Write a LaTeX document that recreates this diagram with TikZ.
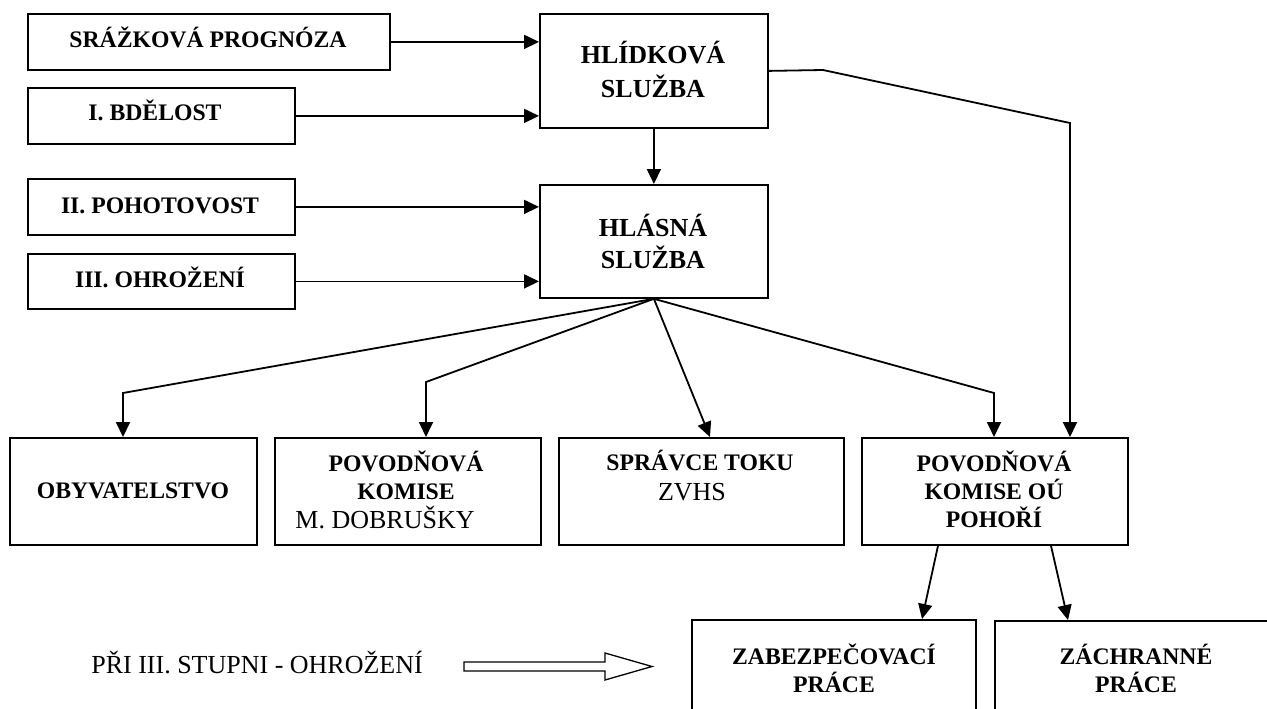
\documentclass[tikz,border=0pt]{standalone}
\usepackage{fontspec}
\setmainfont{Liberation Serif}
\usetikzlibrary{arrows.meta}
\begin{document}
\begin{tikzpicture}[x=1pt,y=-1pt,
  box/.style={draw, line width=1.8pt, inner sep=0pt, anchor=north west},
  bt/.style={font=\fontsize{23.7}{28}\selectfont\bfseries, inner sep=0pt, anchor=base},
  bigt/.style={font=\fontsize{26}{31}\selectfont\bfseries, inner sep=0pt, anchor=base},
  rt/.style={font=\fontsize{26}{30}\selectfont, inner sep=0pt, anchor=base},
  arr/.style={line width=1.8pt, -{Triangle[length=15pt,width=14pt]}},
  ln/.style={line width=1.8pt}]
\useasboundingbox (0,0) rectangle (1267,709);
\clip (0,0) rectangle (1267,709);
% boxes
\node[box, minimum width=362pt, minimum height=56pt] (sp) at (27,13) {};
\node[box, minimum width=267pt, minimum height=56pt] (ib) at (27,87) {};
\node[box, minimum width=228pt, minimum height=114pt] (hl) at (539,13) {};
\node[box, minimum width=267pt, minimum height=56pt] (ii) at (27,178) {};
\node[box, minimum width=267pt, minimum height=55pt] (iii) at (27,253) {};
\node[box, minimum width=228pt, minimum height=113pt] (hlas) at (539,184) {};
\node[box, minimum width=247pt, minimum height=107pt] (obyv) at (9,437) {};
\node[box, minimum width=266pt, minimum height=107pt] (povkom) at (274,437) {};
\node[box, minimum width=285pt, minimum height=107pt] (sprav) at (558,437) {};
\node[box, minimum width=266pt, minimum height=107pt] (povou) at (861,437) {};
\node[box, minimum width=284pt, minimum height=120pt] (zab) at (691,619) {};
\node[box, minimum width=290pt, minimum height=120pt] (zach) at (994,620) {};
% texts
\node[bt] (tsp) at (208,48) {SRÁŽKOVÁ PROGNÓZA};
\node[bt] (tib) at (155,121) {I. BDĚLOST};
\node[bigt] (thla) at (653,64) {HLÍDKOVÁ};
\node[bigt] (thlb) at (653,97) {SLUŽBA};
\node[bt] (tii) at (160,213) {II. POHOTOVOST};
\node[bt] (tiii) at (160,287) {III. OHROŽENÍ};
\node[bigt] (thsa) at (653,236) {HLÁSNÁ};
\node[bigt] (thsb) at (653,268) {SLUŽBA};
\node[bt] (tob) at (133,498) {OBYVATELSTVO};
\node[bt] (tpka) at (406,471) {POVODŇOVÁ};
\node[bt] (tpkb) at (406,499) {KOMISE};
\node[rt] (tpkc) at (385,528) {M. DOBRUŠKY};
\node[bt] (tspa) at (700,470) {SPRÁVCE TOKU};
\node[rt] (tspb) at (692,500) {ZVHS};
\node[bt] (tpoa) at (994,471) {POVODŇOVÁ};
\node[bt] (tpob) at (994,499) {KOMISE OÚ};
\node[bt] (tpoc) at (994,527) {POHOŘÍ};
\node[bt] (tza) at (834,664) {ZABEZPEČOVACÍ};
\node[bt] (tzb) at (834,692) {PRÁCE};
\node[bt] (tca) at (1136,664) {ZÁCHRANNÉ};
\node[bt] (tcb) at (1136,692) {PRÁCE};
\node[rt, anchor=base east] (tpri) at (423,673) {PŘI III. STUPNI - OHROŽENÍ};
% inputs
\draw[arr] (sp.east) -- (sp.east -| hl.west);
\draw[arr] (ib.east) -- (ib.east -| hl.west);
\draw[arr] (ii.east) -- (ii.east -| hlas.west);
\draw[arr] (iii.east) -- (iii.east -| hlas.west);
\draw[arr] (hl.south) -- (hlas.north);
% hlidkova -> povodnova komise OU
\coordinate (h1) at (823,70);
\coordinate (h2) at (1070,123);
\draw[arr] (hl.east) -- (h1) -- (h2) -- (h2 |- povou.north);
% fan
\coordinate (kob) at (123,393);
\coordinate (kpk) at (426,382);
\coordinate (ksp) at (710,437);
\coordinate (kpo) at (994,393);
\draw[arr] (hlas.south) -- (kob) -- (kob |- obyv.north);
\draw[arr] (hlas.south) -- (kpk) -- (kpk |- povkom.north);
\draw[arr] (hlas.south) -- (ksp |- sprav.north);
\draw[arr] (hlas.south) -- (kpo) -- (kpo |- povou.north);
% lower
\coordinate (z1) at (938,544);
\coordinate (z2) at (922,619);
\coordinate (c1) at (1051,544);
\coordinate (c2) at (1068,620);
\draw[arr] (z1 |- povou.south) -- (z2 |- zab.north);
\draw[arr] (c1 |- povou.south) -- (c2 |- zach.north);
% hollow arrow
\draw[line width=1.3pt, line join=miter] (464,662) -- (605,662) -- (605,653) -- (652,666.5) -- (605,680) -- (605,671) -- (464,671) -- cycle;
\end{tikzpicture}
\end{document}
